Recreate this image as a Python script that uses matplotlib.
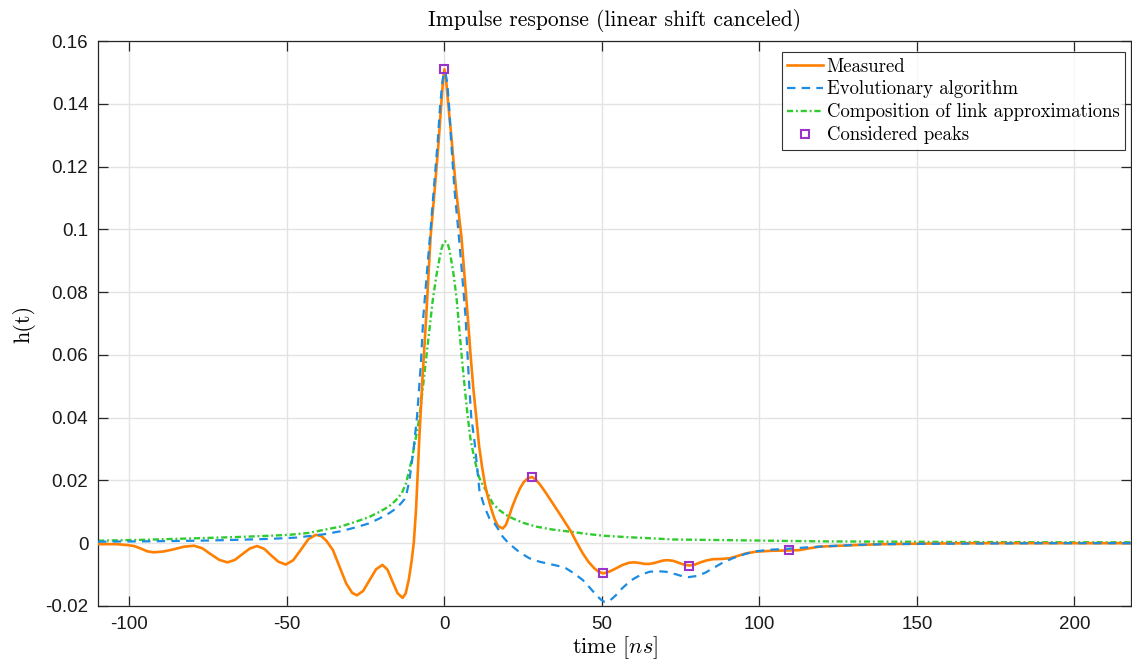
import matplotlib
matplotlib.use("Agg")
import matplotlib.pyplot as plt
from matplotlib.ticker import FixedLocator, FixedFormatter

plt.rcParams["mathtext.fontset"] = "cm"
plt.rcParams["axes.unicode_minus"] = False

# ---- measured impulse response ----
t_meas = [-110, -104, -100.6, -98.5, -96.4, -94.3, -92.2, -89, -85.8, -82.7, -79.5,
          -76.9, -74.2, -71.5, -68.9, -66.5, -64.2, -61.8, -59.5, -57.2, -55, -52.7,
          -50.4, -48, -45.6, -43.2, -40.8, -39, -37.5, -35.4, -33.3, -31.2, -29.3,
          -27.8, -25.8, -23.8, -21.7, -19.7, -18.1, -16.5, -14.9, -13.3, -12.3,
          -11.3, -10.4, -9.7, -9.0, -8.4, -7.9, -7.0, -5.8, -4.4, -3.1, -1.8, -1.0,
          -0.4, 0, 0.5, 1.2, 2.3, 3.7, 5.4, 6.4, 7.4, 8.3, 9.2, 10.1, 11, 12, 13,
          13.8, 15, 16, 17, 18.5, 19.5, 20.5, 21.6, 22.8, 24, 25.2, 26.5, 27.8, 29,
          30.5, 32.3, 34.4, 36.5, 38.4, 40.2, 42, 43.9, 45.8, 47.6, 49, 50.5, 52.5,
          54.5, 56.6, 58.7, 60.3, 62, 63.6, 65.1, 66.6, 68, 69.5, 70.9, 72.6, 74.3,
          76, 77.8, 79.5, 81.3, 83.2, 85.2, 88, 90.5, 93, 95.5, 98.9, 104, 109.5,
          112.7, 116, 119, 123.3, 130, 139, 147, 155, 170, 190, 218]
h_meas = [-0.0003, -0.0003, -0.0006, -0.0009, -0.0017, -0.0026, -0.0029, -0.0026,
          -0.0019, -0.0011, -0.0008, -0.0016, -0.0035, -0.0053, -0.0061, -0.0053,
          -0.0035, -0.0017, -0.0009, -0.0018, -0.0039, -0.0059, -0.0068, -0.0054,
          -0.0021, 0.0013, 0.0027, 0.0022, 0.0008, -0.0022, -0.0075, -0.0128,
          -0.0158, -0.0166, -0.0152, -0.0118, -0.0083, -0.0069, -0.0084, -0.0122,
          -0.0159, -0.0174, -0.0160, -0.0115, -0.0055, 0.0005, 0.0110, 0.0240,
          0.0350, 0.0520, 0.0720, 0.0976, 0.1125, 0.1284, 0.1400, 0.1480, 0.1510,
          0.1480, 0.1400, 0.1284, 0.1125, 0.0976, 0.0850, 0.0722, 0.0600, 0.0490,
          0.0403, 0.0310, 0.0240, 0.0180, 0.0148, 0.0105, 0.0075, 0.0055, 0.0047,
          0.0058, 0.0085, 0.0118, 0.0148, 0.0175, 0.0195, 0.0207, 0.0211, 0.0203,
          0.0185, 0.0159, 0.0127, 0.0095, 0.0065, 0.0037, 0.0002, -0.0032, -0.0060,
          -0.0080, -0.0091, -0.0096, -0.0090, -0.0080, -0.0069, -0.0062, -0.0061,
          -0.0063, -0.0066, -0.0066, -0.0063, -0.0059, -0.0055, -0.0054, -0.0056,
          -0.0062, -0.0068, -0.0071, -0.0068, -0.0061, -0.0055, -0.0051, -0.0050,
          -0.0048, -0.0041, -0.0033, -0.0027, -0.0024, -0.0023, -0.0022, -0.0016,
          -0.0011, -0.0009, -0.0006, -0.0003, -0.0002, -0.0001, 0.0, 0.0, 0.0]

# ---- evolutionary algorithm fit ----
t_evo = [-110, -95, -78, -65, -55, -47, -38.6, -33, -28, -24, -20.6, -17.5, -15.3,
         -13.8, -12.7, -12.2, -11.1, -9.8, -8.7, -7.5, -6.7, -5.5, -4.5, -3.4, -2.1,
         -1.4, -0.7, -0.2, 0.3, 0.9, 1.5, 2.1, 3.2, 4.5, 5.5, 6.7, 7.6, 8.5, 9.5,
         10.3, 11.1, 12.7, 14.3, 15.9, 17.2, 18.5, 20, 21.7, 24, 27, 30.2, 33.3, 36,
         38.6, 41, 43.9, 46, 48.2, 49.6, 50.8, 52, 53.2, 54.5, 56.5, 58.7, 60.3,
         62.5, 65.1, 67.5, 70.4, 73.5, 75.5, 77.5, 80.4, 83, 85.2, 88, 91.5, 95,
         97.9, 103, 108.5, 114, 119, 125, 132, 140, 150, 170, 190, 218]
h_evo = [0.0005, 0.0006, 0.0008, 0.0011, 0.0014, 0.0018, 0.0028, 0.0038, 0.0051,
         0.0063, 0.0079, 0.0096, 0.0111, 0.0127, 0.0140, 0.0150, 0.0201, 0.0300,
         0.0403, 0.0570, 0.0722, 0.0870, 0.0987, 0.1125, 0.1284, 0.1390, 0.1465,
         0.1500, 0.1500, 0.1465, 0.1390, 0.1284, 0.1125, 0.0987, 0.0870, 0.0722,
         0.0550, 0.0403, 0.0329, 0.0250, 0.0169, 0.0116, 0.0079, 0.0063, 0.0043,
         0.0021, 0.0004, -0.0011, -0.0030, -0.0048, -0.0059, -0.0066, -0.0072,
         -0.0080, -0.0095, -0.0117, -0.0140, -0.0165, -0.0179, -0.0187, -0.0186,
         -0.0177, -0.0165, -0.0143, -0.0123, -0.0112, -0.0100, -0.0091, -0.0089,
         -0.0091, -0.0099, -0.0105, -0.0108, -0.0104, -0.0093, -0.0080, -0.0064,
         -0.0048, -0.0036, -0.0027, -0.0021, -0.0018, -0.0014, -0.0011, -0.0008,
         -0.0005, -0.0003, -0.0002, -0.0001, 0.0, 0.0]

# ---- composition of link approximations ----
t_comp = [-110, -95, -78, -65, -55, -49, -43, -38.6, -33, -28, -24, -20.6, -17.5,
          -15.3, -13.5, -12.2, -10.4, -9, -7.9, -6.1, -5, -3.7, -2.6, -1.6, -1.0,
          -0.4, 0.3, 1.0, 1.6, 2.2, 3, 3.9, 5, 5.8, 6.6, 7.4, 8.3, 9.6, 11, 12.2,
          13.2, 14.3, 15.3, 17.5, 19.6, 21.7, 25, 29.1, 34, 39.7, 45, 50.3, 58.7, 65,
          72.5, 87.3, 104, 119, 140, 160, 190, 218]
h_comp = [0.0008, 0.0011, 0.0016, 0.0020, 0.0024, 0.0027, 0.0033, 0.0042, 0.0053,
          0.0069, 0.0083, 0.0100, 0.0118, 0.0138, 0.0160, 0.0191, 0.0265, 0.0340,
          0.0403, 0.0562, 0.0660, 0.0775, 0.0850, 0.0905, 0.0935, 0.0955, 0.0962,
          0.0955, 0.0935, 0.0900, 0.0850, 0.0775, 0.0650, 0.0562, 0.0480, 0.0403,
          0.0330, 0.0265, 0.0210, 0.0185, 0.0168, 0.0148, 0.0127, 0.0105, 0.0090,
          0.0079, 0.0065, 0.0053, 0.0044, 0.0037, 0.0030, 0.0024, 0.0019, 0.0016,
          0.0012, 0.0010, 0.0008, 0.0006, 0.0005, 0.0004, 0.0003, 0.0003]

# ---- peaks used for the fit ----
t_peaks = [0, 27.8, 50.5, 77.8, 109.5]
h_peaks = [0.151, 0.0211, -0.0096, -0.0071, -0.0023]

x_ticks = [-100, -50, 0, 50, 100, 150, 200]
y_ticks = [-0.02, 0, 0.02, 0.04, 0.06, 0.08, 0.1, 0.12, 0.14, 0.16]
y_tick_labels = ["-0.02", "0", "0.02", "0.04", "0.06", "0.08", "0.1", "0.12",
                 "0.14", "0.16"]

C_MEAS = "#FF8000"
C_EVO = "#1B8CE3"
C_COMP = "#2ECC2E"
C_PEAK = "#9933CC"
SPINE = "#262626"
SERIF = "cmr10"
SANS = "Liberation Sans"

fig = plt.figure(figsize=(11.32, 6.66), dpi=100)
ax = fig.add_axes([98 / 1132, 60 / 666, 1033 / 1132, 565 / 666])

ax.plot(t_meas, h_meas, color=C_MEAS, lw=1.9, label="Measured", zorder=3,
        solid_joinstyle="round")
ax.plot(t_evo, h_evo, color=C_EVO, lw=1.6, ls=(0, (3.8, 2.8)),
        label="Evolutionary algorithm", zorder=4)
ax.plot(t_comp, h_comp, color=C_COMP, lw=1.7, ls=(0, (2.6, 1.2, 0.8, 1.2)),
        label="Composition of link approximations", zorder=2)
ax.plot(t_peaks, h_peaks, ls="none", marker="s", ms=5.5, mfc="none",
        mec=C_PEAK, mew=1.5, label="Considered peaks", zorder=5)

ax.set_xlim(-110, 218)
ax.set_ylim(-0.02, 0.16)
ax.xaxis.set_major_locator(FixedLocator(x_ticks))
ax.yaxis.set_major_locator(FixedLocator(y_ticks))
ax.yaxis.set_major_formatter(FixedFormatter(y_tick_labels))

ax.grid(True, color="#E3E3E3", lw=1.0)
ax.set_axisbelow(True)
for sp in ax.spines.values():
    sp.set_color(SPINE)
    sp.set_linewidth(0.9)
ax.tick_params(direction="in", length=7, width=0.9, color=SPINE,
               top=True, right=True, labelsize=13.5, labelcolor="#1a1a1a")
ax.tick_params(axis="x", pad=7)
ax.tick_params(axis="y", pad=7)
for lab in ax.get_xticklabels() + ax.get_yticklabels():
    lab.set_fontfamily(SANS)

ax.set_title("Impulse response (linear shift canceled)", fontfamily=SERIF,
             fontsize=15.5, pad=11)
ax.set_xlabel("time [$ns$]", fontfamily=SERIF, fontsize=16, labelpad=1)
ax.set_ylabel("h(t)", fontfamily=SERIF, fontsize=16, labelpad=7)

leg = ax.legend(loc="upper right", bbox_to_anchor=(0.9942, 0.9805),
                borderaxespad=0, prop={"family": SERIF, "size": 13.5},
                frameon=True, fancybox=False, edgecolor="black",
                handlelength=1.9, handletextpad=0.2, labelspacing=0.26,
                borderpad=0.3)
leg.get_frame().set_linewidth(0.8)

fig.savefig("out.png", dpi=100)
